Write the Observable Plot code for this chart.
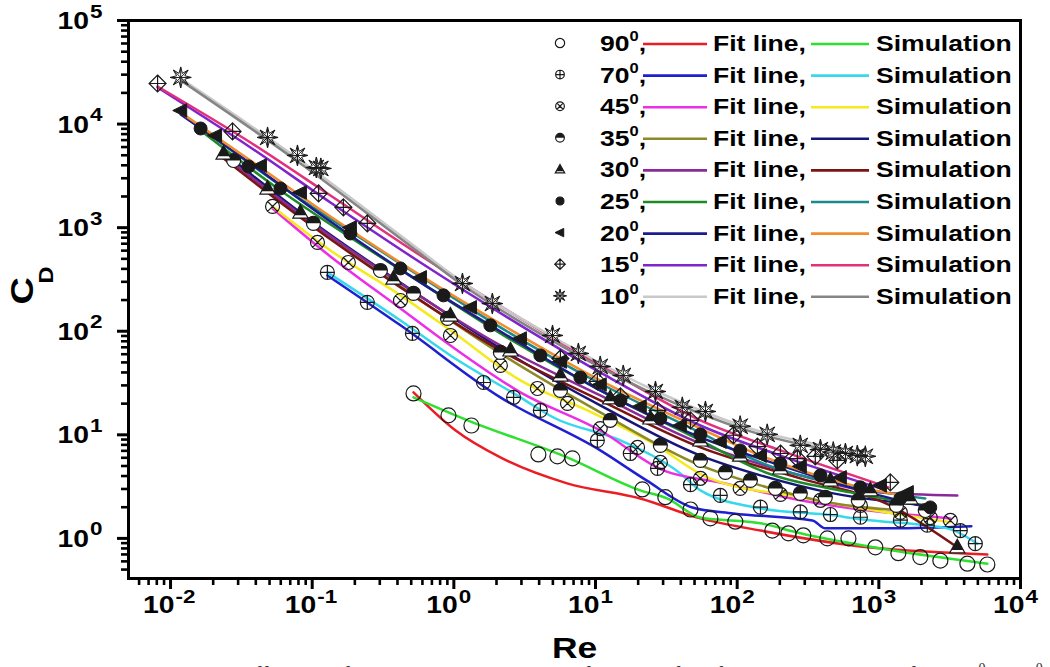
<!DOCTYPE html>
<html>
<head>
<meta charset="utf-8">
<script src="https://cdn.jsdelivr.net/npm/d3@7"></script>
<script src="https://cdn.jsdelivr.net/npm/@observablehq/plot@0.6"></script>
<style>
  body { margin: 0; background: #fff; width: 1050px; height: 667px; overflow: hidden; position: relative; }
  #chart { position: absolute; left: 0; top: 0; }
  #caption { position: absolute; left: 112px; top: 661px; font: 22px "Liberation Serif", "Times New Roman", serif; color: #333; white-space: nowrap; }
  #caption sup { font-size: 14px; }
</style>
</head>
<body>
<div id="chart"></div>
<div id="caption">Fig. 5. Drag coefficients of the inclined particles as a function of Re for inclination angles from 10<sup>0</sup> to 90<sup>0</sup></div>
<script>
// ---- Inclination angles and line colours -------------------------------
const angles = ["90", "70", "45", "35", "30", "25", "20", "15", "10"];
const fitColors = ["#ec1c24", "#1f1fd2", "#ec2ee6", "#8c8a26", "#8a2a98", "#1e8a26", "#1c1c8e", "#8024cc", "#c9c9c9"];
const simColors = ["#2fe02f", "#38d8ec", "#f4ea1c", "#16167a", "#7c1414", "#1a8a8a", "#f28c2e", "#e2307c", "#858585"];

// ---- Measured drag coefficients [Re, C_D] ------------------------------
const pts90 = [[0.519,25.1],[0.916,15.4],[1.33,12.3],[3.95,6.47],[5.38,6.19],[6.87,5.92],[21.4,2.97],[31.1,2.5],[46.8,1.9],[64.7,1.56],[97,1.45],[177,1.19],[230,1.12],[293,1.07],[433,1.0],[610,1.0],[945,0.82],[1373,0.72],[1963,0.66],[2718,0.61],[4217,0.57],[5834,0.56]];
const pts70 = [[0.128,370],[0.245,190],[0.51,95.3],[1.62,32],[2.64,23],[4.08,17.2],[10.3,8.83],[17.6,6.6],[27.4,4.74],[46.8,3.3],[76,2.6],[146,2.0],[279,1.8],[455,1.7],[741,1.6],[1419,1.5],[2198,1.34],[3760,1.19],[4797,0.89]];
const pts45 = [[0.0525,1603],[0.109,720],[0.18,461],[0.42,198],[0.946,91],[2.13,46.8],[3.89,28],[6.34,20.1],[10.8,11.5],[19.8,7.56],[28.7,5.42],[55,3.8],[105,3.04],[202,2.66],[387,2.33],[741,2.08],[1419,1.78],[2307,1.59],[3199,1.49]];
const pts35 = [[0.0279,4450],[0.102,1100],[0.303,386],[0.519,232],[0.902,133],[2.13,62.4],[5.65,26.8],[12.7,13.8],[28.7,7.9],[55,5.66],[82.6,4.34],[124,3.63],[186,3.04],[279,2.72],[419,2.49],[716,2.33],[1331,2.08],[2128,1.86]];
const pts30 = [[0.0237,5200],[0.0484,2390],[0.0826,1403],[0.375,323],[0.946,142],[2.51,65.3],[5.65,37.4],[12.7,22.5],[24.4,14.4],[55,8.83],[105,6.3],[202,4.74],[455,3.63],[871,2.91],[1667,2.43],[3580,0.82]];
const pts25 = [[0.0163,9070],[0.0355,3900],[0.0597,2390],[0.186,879],[0.42,404],[0.845,222],[1.81,114],[4.08,58.4],[7.82,35.8],[15,21.5],[28.7,14.4],[55,10.1],[105,7.07],[202,5.3],[387,4.06],[741,3.11],[1419,2.43],[2307,1.99]];
const pts20 = [[0.0118,13520],[0.0208,7760],[0.0431,3985],[0.0826,2187],[0.186,1005],[0.581,331],[1.31,170],[2.95,85],[5.65,51],[10.8,30.6],[20.7,18.8],[39.7,12.3],[76,8.6],[146,6.3],[279,4.96],[535,3.88],[1026,3.25],[1589,2.78]];
const pts15 = [[0.0081,24660],[0.0274,8490],[0.111,2140],[0.166,1570],[0.245,1100],[5.65,54.6],[10.3,32.8],[15,23.5],[27.4,17.2],[46.8,13.8],[94,9.9],[139,7.7],[202,6.6],[266,5.9],[356,6.2],[509,5.66],[1205,3.47]];
const pts10 = [[0.0118,28200],[0.0484,7430],[0.0787,4980],[0.107,3810],[0.115,3730],[1.15,289],[1.87,185],[4.97,91],[7.57,61],[10.8,45.7],[15.7,37.4],[26.5,26.2],[41,18.4],[59.7,16.8],[105,12.1],[163,10.1],[279,7.9],[387,7.2],[477,6.8],[581,6.6],[705,6.3],[803,6.2]];

// ---- Fit lines [Re, C_D] ------------------------------------------------
const fit90 = [[0.519,25.7],[1.03,11.0],[2.13,6.05],[6.3,3.4],[20.7,2.43],[55,1.56],[146,1.19],[629,0.86],[5834,0.7]];
const fit70 = [[0.128,346],[0.42,114],[2.13,23],[10.8,7.07],[22.9,3.63],[48.3,1.99],[94,1.74],[340,1.49],[419,1.25],[1265,1.25],[4497,1.31]];
const fit45 = [[0.0525,1532],[0.1345,527],[0.42,166],[0.946,72.9],[2.95,25.7],[10.8,11],[30.1,4.53],[76,3.47],[279,2.33],[3199,1.56]];
const fit35 = [[0.0279,4258],[0.102,1050],[0.519,222],[2.13,61],[10.8,16.5],[55,5.07],[146,3.25],[477,2.18],[1419,1.86]];
const fit30 = [[0.0237,4980],[0.0826,1341],[0.42,289],[2.13,72.9],[10.8,24],[55,8.26],[279,4.06],[1026,2.78],[3580,2.6]];
const fit25 = [[0.0163,8670],[0.0597,2286],[0.186,804],[0.581,296],[2.13,95.3],[10.8,26.8],[55,8.83],[146,4.53],[629,2.78],[2307,2.04]];
const fit20 = [[0.0118,12380],[0.0367,4170],[0.1345,1148],[0.581,296],[2.95,76.3],[10.8,26.8],[55,9.44],[202,5.07],[741,2.91],[1963,2.08]];
const fit15 = [[0.0081,22550],[0.0367,5943],[0.1345,1750],[0.581,461],[2.95,114],[10.8,40],[55,12.3],[202,6.3],[1026,3.04]];
const fit10 = [[0.0118,27500],[0.0826,4450],[0.42,841],[1.11,309],[4.81,91],[24.4,28],[124,11.5],[803,6.8]];

// ---- Simulation curves [Re, C_D] ----------------------------------------
const sim90 = [[0.519,23],[1.25,13.8],[6.3,6.05],[20.7,2.91],[32,2.43],[55,1.59],[146,1.4],[279,1.12],[915,0.82],[5834,0.57]];
const sim70 = [[0.128,370],[0.42,127],[0.946,58.4],[2.95,23],[5.05,14.7],[15,8.83],[39.7,4.24],[55,2.91],[146,1.95],[477,1.67],[741,1.53],[3041,1.25],[4955,0.89]];
const sim45 = [[0.0525,1603],[0.1345,603],[0.42,222],[0.946,102],[2.95,33.5],[8.77,17.2],[25.6,8.26],[61.7,3.88],[279,2.49],[3199,1.43]];
const sim35 = [[0.0279,4450],[0.102,1122],[0.519,242],[2.13,68.2],[10.8,19.2],[55,6.3],[146,4.06],[477,2.72],[2128,2.08]];
const sim30 = [[0.0237,4656],[0.0826,1254],[0.42,265],[2.13,65.3],[10.8,21.5],[55,7.56],[279,3.8],[1205,2.08],[3580,0.82]];
const sim25 = [[0.0163,9270],[0.0597,2555],[0.186,919],[0.581,338],[2.13,109],[10.8,31.3],[55,10.5],[146,5.42],[629,3.18],[2128,2.43]];
const sim20 = [[0.0118,12940],[0.0367,4450],[0.1345,1283],[0.581,346],[2.95,91],[10.8,33.5],[55,11.5],[146,6.3],[741,3.11],[1589,2.54]];
const sim15 = [[0.0081,23070],[0.0367,6640],[0.1345,2046],[0.581,539],[2.95,133],[10.8,46.8],[55,13.8],[202,7.07],[1167,3.11]];
const sim10 = [[0.0118,26400],[0.0826,4170],[0.42,787],[1.11,289],[4.81,83],[24.4,25.7],[124,10.8],[803,6.2]];

// ---- Axis ticks and labels ------------------------------------------------
const xMajor = [1e-2, 1e-1, 1, 1e1, 1e2, 1e3, 1e4];
const xExp = ["-2", "-1", "0", "1", "2", "3", "4"];
const yMajor = [1, 1e1, 1e2, 1e3, 1e4, 1e5];
const yExp = ["0", "1", "2", "3", "4", "5"];
const xDomain = [0.00505, 1e4];
const yDomain = [0.41, 1e5];

const minorBetween = (decades, lo, hi) => {
  const out = [];
  for (const d of decades) for (let k = 2; k <= 9; k++) { const v = k * d; if (v > lo && v < hi) out.push(v); }
  return out;
};
const xMinor = minorBetween([1e-3, ...xMajor], xDomain[0], xDomain[1]);
const yMinor = minorBetween([1e-1, ...yMajor], yDomain[0], yDomain[1]);

const ptsList = [pts90, pts70, pts45, pts35, pts30, pts25, pts20, pts15, pts10];
const fitList = [fit90, fit70, fit45, fit35, fit30, fit25, fit20, fit15, fit10];
const simList = [sim90, sim70, sim45, sim35, sim30, sim25, sim20, sim15, sim10];

// ---- Marker glyphs ----------------------------------------------------------
const rad = s => Math.sqrt(s / Math.PI);
const symCircle = {draw(c, s) { const r = rad(s); c.moveTo(r, 0); c.arc(0, 0, r, 0, 2 * Math.PI); }};
const symCirclePlus = {draw(c, s) { const r = rad(s); c.moveTo(r, 0); c.arc(0, 0, r, 0, 2 * Math.PI); c.moveTo(-r, 0); c.lineTo(r, 0); c.moveTo(0, -r); c.lineTo(0, r); }};
const symCircleX = {draw(c, s) { const r = rad(s), k = r * Math.SQRT1_2; c.moveTo(r, 0); c.arc(0, 0, r, 0, 2 * Math.PI); c.moveTo(-k, -k); c.lineTo(k, k); c.moveTo(-k, k); c.lineTo(k, -k); }};
const symHalfTop = {draw(c, s) { const r = rad(s); c.moveTo(r, 0); c.arc(0, 0, r, 0, Math.PI, true); c.closePath(); }};
const symTriUp = {draw(c, s) { const r = rad(s); c.moveTo(0, -r); c.lineTo(0.95 * r, 0.7 * r); c.lineTo(-0.95 * r, 0.7 * r); c.closePath(); }};
const symTriTop = {draw(c, s) { const r = rad(s), w = 0.95 * r * 1.35 / 1.7; c.moveTo(0, -r); c.lineTo(w, 0.35 * r); c.lineTo(-w, 0.35 * r); c.closePath(); }};
const symTriLeft = {draw(c, s) { const r = rad(s); c.moveTo(-r, 0); c.lineTo(0.75 * r, -0.85 * r); c.lineTo(0.75 * r, 0.85 * r); c.closePath(); }};
const symDiamondPlus = {draw(c, s) { const r = rad(s); c.moveTo(0, -r); c.lineTo(r, 0); c.lineTo(0, r); c.lineTo(-r, 0); c.closePath(); c.moveTo(-r, 0); c.lineTo(r, 0); c.moveTo(0, -r); c.lineTo(0, r); }};
const symStar = {draw(c, s) {
  const r = rad(s);
  for (let i = 0; i < 16; i++) {
    const a = i * Math.PI / 8 - Math.PI / 2, rr = i % 2 ? 0.42 * r : r;
    i ? c.lineTo(rr * Math.cos(a), rr * Math.sin(a)) : c.moveTo(rr * Math.cos(a), rr * Math.sin(a));
  }
  c.closePath();
  for (let j = 0; j < 4; j++) { const a = j * Math.PI / 4; c.moveTo(r * Math.cos(a), r * Math.sin(a)); c.lineTo(-r * Math.cos(a), -r * Math.sin(a)); }
}};

const INK = "#1a1a1a";
const open = (symbol, r) => ({symbol, r, fill: "none", stroke: INK, strokeWidth: 1.2});
const markerStyles = [
  [open(symCircle, 7.5)],
  [open(symCirclePlus, 7)],
  [open(symCircleX, 7)],
  [{symbol: symCircle, r: 7, fill: "white", stroke: INK, strokeWidth: 1.2}, {symbol: symHalfTop, r: 7, fill: INK, stroke: "none"}],
  [{symbol: symTriUp, r: 8, fill: "white", stroke: INK, strokeWidth: 1.2}, {symbol: symTriTop, r: 8, fill: INK, stroke: "none"}],
  [{symbol: symCircle, r: 6.5, fill: INK, stroke: INK, strokeWidth: 1}],
  [{symbol: symTriLeft, r: 8, fill: INK, stroke: INK, strokeWidth: 1}],
  [open(symDiamondPlus, 8.5)],
  [{symbol: symStar, r: 10.5, fill: "none", stroke: INK, strokeWidth: 1}]
];

const FONT = "Liberation Sans, Arial, Helvetica, sans-serif";
const X = d => d[0], Y = d => d[1];
const lineOpts = color => ({x: X, y: Y, stroke: color, strokeWidth: 2.5, curve: "monotone-x"});

const fitLines = fitList.map((s, i) => Plot.line(s, lineOpts(fitColors[i])));
const simLines = simList.map((s, i) => Plot.line(s, lineOpts(simColors[i])));
const markers = ptsList.flatMap((s, i) => markerStyles[i].map(st => Plot.dot(s, {x: X, y: Y, ...st})));

const label = {fontFamily: FONT, fontWeight: "bold", fill: "black"};

const chart = Plot.plot({
  width: 1050,
  height: 667,
  marginLeft: 128,
  marginRight: 30,
  marginTop: 20,
  marginBottom: 89,
  x: {type: "log", domain: xDomain, axis: null},
  y: {type: "log", domain: yDomain, axis: null},
  marks: [
    ...simLines.map((m, i) => [fitLines[i], m]).flat(),
    ...markers,
    Plot.frame({stroke: "black", strokeWidth: 3}),
    // outward ticks on the bottom and left edges
    Plot.ruleX(xMajor, {x: d => d, stroke: "black", strokeWidth: 3, insetTop: 558, insetBottom: -11}),
    Plot.ruleX(xMinor, {x: d => d, stroke: "black", strokeWidth: 2.6, insetTop: 558, insetBottom: -7}),
    Plot.ruleY(yMajor, {y: d => d, stroke: "black", strokeWidth: 3, insetLeft: -11, insetRight: 892}),
    Plot.ruleY(yMinor, {y: d => d, stroke: "black", strokeWidth: 2.6, insetLeft: -7, insetRight: 892}),
    // x tick labels: base and superscript exponent
    Plot.text(xMajor, {x: d => d, text: () => "10", frameAnchor: "bottom", textAnchor: "end", dx: 4, dy: 34, fontSize: 24, ...label}),
    Plot.text(xMajor, {x: d => d, text: (d, i) => xExp[i], frameAnchor: "bottom", textAnchor: "start", dx: 5, dy: 24, fontSize: 19, ...label}),
    Plot.text(["Re"], {text: d => d, frameAnchor: "bottom", dy: 79, fontSize: 30, ...label})
  ]
});

// the lettering is set slightly wide
const STRETCH = 1.18;
chart.querySelectorAll("text").forEach(el => {
  const t = el.getAttribute("transform") || "";
  const x = +(el.getAttribute("x") || 0), y = +(el.getAttribute("y") || 0);
  el.removeAttribute("x"); el.removeAttribute("y");
  el.setAttribute("transform", `${t} translate(${x},${y}) scale(${STRETCH},1)`);
});

const svg = d3.select(chart);
const yScale = chart.scale("y");

// ---- y tick labels and the C_D title ---------------------------------------
const yLabels = svg.append("g")
  .attr("font-family", FONT).attr("font-weight", "bold").attr("fill", "black");
yMajor.forEach((v, i) => {
  const py = yScale.apply(v);
  yLabels.append("text").attr("text-anchor", "end").attr("font-size", 24)
    .attr("transform", `translate(89,${py + 9}) scale(${STRETCH},1)`).text("10");
  yLabels.append("text").attr("text-anchor", "start").attr("font-size", 19)
    .attr("transform", `translate(90,${py - 2.5}) scale(${STRETCH},1)`).text(yExp[i]);
});
yLabels.append("text").attr("text-anchor", "middle").attr("font-size", 32)
  .attr("transform", `translate(33,291) rotate(-90) scale(${STRETCH},1)`).text("C");
yLabels.append("text").attr("text-anchor", "middle").attr("font-size", 20)
  .attr("transform", `translate(53,275) rotate(-90) scale(${STRETCH},1)`).text("D");

// ---- Legend inside the plot area ------------------------------------------
const legend = svg.append("g")
  .attr("font-family", FONT).attr("font-weight", "bold").attr("font-size", 22.5)
  .attr("fill", "black").attr("text-anchor", "start");
angles.forEach((a, i) => {
  const row = legend.append("g").attr("transform", `translate(0,${43 + 31.6 * i})`);
  markerStyles[i].forEach(st => {
    row.append("path")
      .attr("d", d3.symbol(st.symbol, Math.PI * (st.r * 0.62) ** 2)())
      .attr("transform", "translate(560,0)")
      .attr("fill", st.fill).attr("stroke", st.stroke).attr("stroke-width", st.strokeWidth || 1);
  });
  const t = row.append("text").attr("transform", `translate(600,8) scale(${STRETCH},1)`);
  t.append("tspan").text(a);
  t.append("tspan").attr("font-size", 14).attr("dy", -10).text("0");
  t.append("tspan").attr("dy", 10).text(",");
  row.append("line").attr("x1", 643).attr("x2", 707).attr("y1", 1).attr("y2", 1).attr("stroke", fitColors[i]).attr("stroke-width", 2.6);
  row.append("text").attr("transform", `translate(713,8) scale(${STRETCH},1)`).text("Fit line,");
  row.append("line").attr("x1", 811).attr("x2", 869).attr("y1", 1).attr("y2", 1).attr("stroke", simColors[i]).attr("stroke-width", 2.6);
  row.append("text").attr("transform", `translate(876,8) scale(${STRETCH},1)`).text("Simulation");
});

document.getElementById("chart").appendChild(chart);
</script>
</body>
</html>
